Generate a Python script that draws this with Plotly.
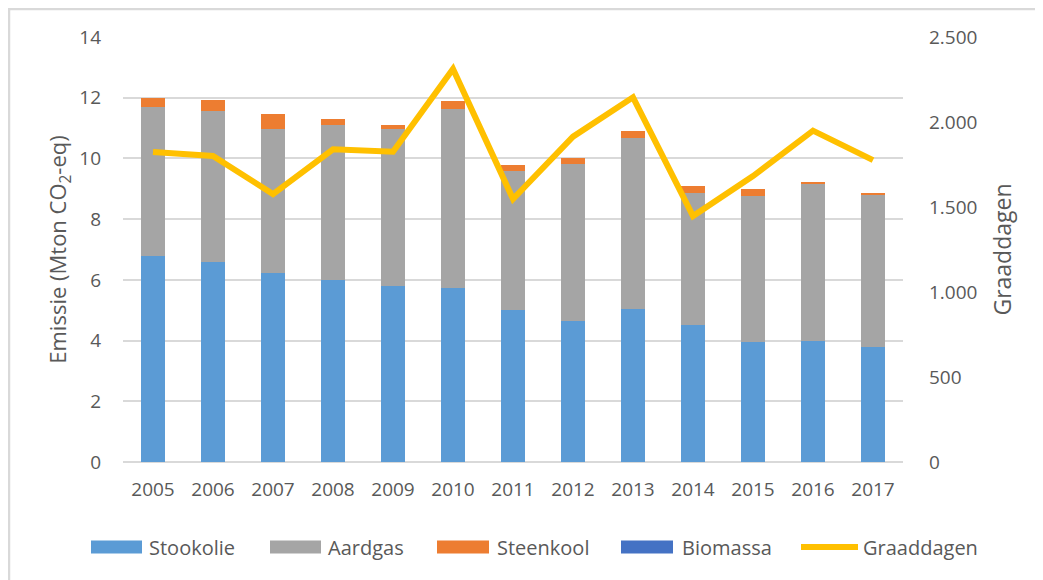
import plotly.graph_objects as go

years = ["2005", "2006", "2007", "2008", "2009", "2010", "2011", "2012", "2013", "2014", "2015", "2016", "2017"]
stookolie = [6.79, 6.58, 6.24, 5.98, 5.81, 5.72, 5.01, 4.63, 5.05, 4.50, 3.95, 3.98, 3.79]
aardgas = [4.89, 4.98, 4.73, 5.12, 5.16, 5.92, 4.57, 5.20, 5.62, 4.35, 4.82, 5.18, 5.01]
steenkool = [0.30, 0.37, 0.50, 0.20, 0.12, 0.25, 0.19, 0.19, 0.24, 0.24, 0.21, 0.04, 0.04]
biomassa = [0.0] * 13
graaddagen = [1824, 1800, 1576, 1839, 1825, 2312, 1547, 1914, 2145, 1447, 1682, 1949, 1776]

legend_names = ["Stookolie", "Aardgas", "Steenkool", "Biomassa", "Graaddagen"]
COLORS = ["#5B9BD5", "#A5A5A5", "#ED7D31", "#4472C4", "#FFC000"]

FONT = "Open Sans"
GREY = "#595959"
W, H = 1035, 572
L, R, T, B = 115, 140, 29, 118
PW, PH = W - L - R, H - T - B


def px(fx):
    return (fx - L) / PW


def py(fy):
    return (H - B - fy) / PH


fig = go.Figure()
for name, vals, col in zip(legend_names[:4], [stookolie, aardgas, steenkool, biomassa], COLORS[:4]):
    fig.add_trace(go.Bar(x=years, y=vals, name=name, marker=dict(color=col, line=dict(width=0)),
                         showlegend=False))
fig.add_trace(go.Scatter(x=years, y=graaddagen, name="Graaddagen", yaxis="y2", mode="lines",
                         line=dict(color=COLORS[4], width=6), showlegend=False))

fig.update_layout(
    width=W, height=H,
    barmode="stack", bargap=0.6,
    separators=",.",
    paper_bgcolor="white", plot_bgcolor="white",
    font=dict(family=FONT, size=19, color=GREY),
    margin=dict(l=L, r=R, t=T, b=B, autoexpand=False),
    xaxis=dict(showgrid=False, showline=False, ticks="", ticklabelstandoff=14,
               tickfont=dict(size=19, color=GREY)),
    yaxis=dict(range=[0, 14], dtick=2, showgrid=True, gridcolor="#D9D9D9", gridwidth=1.5,
               zeroline=True, zerolinecolor="#D9D9D9", zerolinewidth=1.5,
               ticklabelstandoff=21, tickfont=dict(size=19, color=GREY),
               title=dict(text="Emissie (Mton CO<sub>2</sub>-eq)", font=dict(size=22, color=GREY), standoff=6)),
    yaxis2=dict(range=[0, 2500], dtick=500, overlaying="y", side="right", showgrid=False,
                zeroline=False, tickformat=",d", ticklabelstandoff=25,
                tickfont=dict(size=19, color=GREY),
                title=dict(text="Graaddagen", font=dict(size=23, color=GREY), standoff=18)),
    showlegend=False,
)

# light border around the chart (top-left corner visible)
fig.add_shape(type="rect", xref="paper", yref="paper",
              x0=px(1), x1=px(W + 20), y0=py(H + 20), y1=py(1),
              line=dict(color="#D9D9D9", width=2.5), layer="below")

# legend below the chart
leg_y = py(539)
sw = [(83, 134), (262, 313), (429, 481), (613, 665), (793, 850)]
tx = [139, 318, 487, 672, 853]
for i, (name, col) in enumerate(zip(legend_names, COLORS)):
    x0, x1 = sw[i]
    if i < 4:
        fig.add_shape(type="rect", xref="paper", yref="paper",
                      x0=px(x0), x1=px(x1), y0=py(539 + 6.5), y1=py(539 - 6.5),
                      fillcolor=col, line=dict(width=0))
    else:
        fig.add_shape(type="line", xref="paper", yref="paper",
                      x0=px(x0), x1=px(x1), y0=leg_y, y1=leg_y,
                      line=dict(color=col, width=6))
    fig.add_annotation(text=name, xref="paper", yref="paper", x=px(tx[i]), y=leg_y,
                       xanchor="left", yanchor="middle", showarrow=False,
                       font=dict(size=20, color=GREY, family=FONT))

fig.write_html("out.html")
